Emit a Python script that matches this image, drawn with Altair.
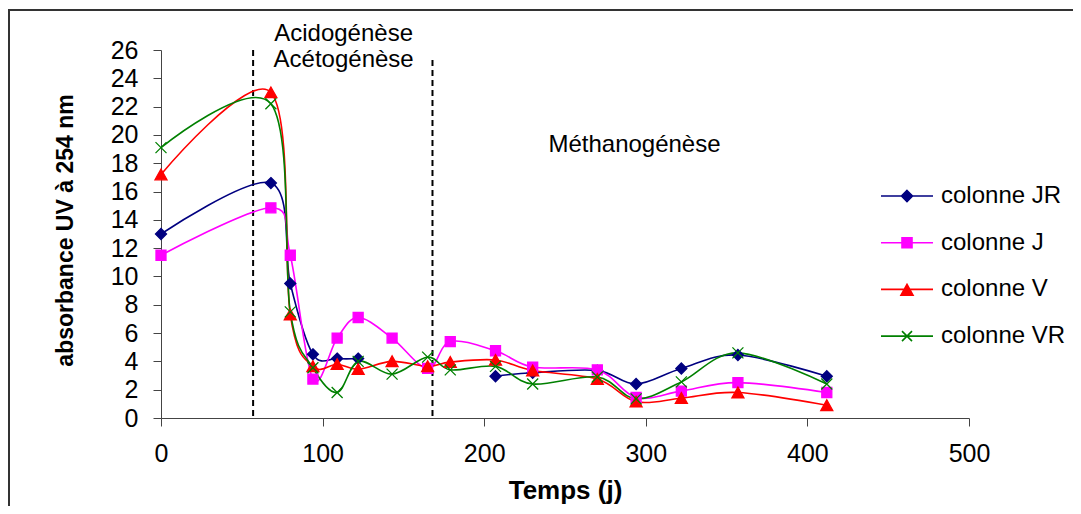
import altair as alt
import pandas as pd

# ---- data ----
times = [0, 68, 80, 94, 109, 122, 143, 165, 179, 207, 230, 270, 294, 322, 357, 412]
jr = [13.0, 16.6, 9.5, 4.5, 4.2, 4.2, None, None, None, 2.95, 3.2, 3.35, 2.4, 3.5, 4.45, 2.95]
j = [11.5, 14.85, 11.5, 2.75, 5.65, 7.1, 5.65, 3.5, 5.4, 4.75, 3.6, 3.4, 1.45, 1.9, 2.5, 1.8]
v = [17.2, 23.0, 7.3, 3.65, 3.8, 3.45, 4.0, 3.65, 3.95, 4.1, 3.35, 2.75, 1.15, 1.4, 1.8, 0.9]
vr = [19.1, 22.2, 7.5, 3.55, 1.8, 4.0, 3.1, 4.3, 3.4, 3.65, 2.4, 2.9, 1.35, 2.55, 4.6, 2.4]

series_names = ["colonne JR", "colonne J", "colonne V", "colonne VR"]
series_values = [jr, j, v, vr]
series_colors = ["#000080", "#FF00FF", "#FF0000", "#008000"]

phase_x = [57, 168]
phase_top = [26, 25.3]
phase_bottom = [0, 0]

note_labels = ["Acidogénèse", "Acétogénèse", "Méthanogénèse"]
note_t = [113, 113, 293]
note_v = [27.1, 25.3, 19.3]

x_ticks = [0, 100, 200, 300, 400, 500]
y_ticks = [0, 2, 4, 6, 8, 10, 12, 14, 16, 18, 20, 22, 24, 26]

# ---- tables ----
rows = []
for name, vals in zip(series_names, series_values):
    for t, val in zip(times, vals):
        rows.append({"t": t, "value": val, "series": name})
df = pd.DataFrame(rows)

phases = pd.DataFrame({"t": phase_x, "top": phase_top, "bottom": phase_bottom})
notes = pd.DataFrame({"t": note_t, "v": note_v, "label": note_labels})

FONT = "Liberation Sans"

marker_paths = [
    "M0,-1.1L1.1,0L0,1.1L-1.1,0Z",
    "M-1,-1L1,-1L1,1L-1,1Z",
    "M0,-1.1L1.2,1.05L-1.2,1.05Z",
    "M-1.1,-1.1L1.1,1.1M1.1,-1.1L-1.1,1.1",
]
legend_paths = [
    "M-5.2,0L5.2,0M0,-1.1L1.1,0L0,1.1L-1.1,0Z",
    "M-5.2,0L5.2,0M-1,-1L1,-1L1,1L-1,1Z",
    "M-5.2,0L5.2,0M0,-1.0L1.2,1.15L-1.2,1.15Z",
    "M-5.2,0L5.2,0M-1,-1L1,1M1,-1L-1,1",
]

x_axis = alt.Axis(
    values=x_ticks, title="Temps (j)", titleFont=FONT, titleFontSize=26,
    titleFontWeight="bold", titleColor="black", titleX=404, titleY=72,
    titleBaseline="middle", labelFont=FONT, labelFontSize=25, labelColor="black",
    labelPadding=15, tickSize=8, tickColor="#444", domainColor="#444",
    grid=False, labelFlush=False,
)
y_axis = alt.Axis(
    values=y_ticks, title="absorbance UV à 254 nm", titleFont=FONT,
    titleFontSize=23, titleFontWeight="bold", titleColor="black",
    titleX=-96, titleY=180, titleAngle=270, titleBaseline="middle",
    titleAlign="center", labelFont=FONT, labelFontSize=25, labelColor="black",
    labelPadding=15, tickSize=8, tickColor="#444", domainColor="#444",
    grid=False, labelFlush=False,
)
x_scale = alt.Scale(domain=[0, 500], nice=False, zero=False)
y_scale = alt.Scale(domain=[0, 26], nice=False, zero=False)


def X(field):
    return alt.X(field, type="quantitative", scale=x_scale, axis=x_axis)


def Y(field):
    return alt.Y(field, type="quantitative", scale=y_scale, axis=y_axis)


color_scale = alt.Scale(domain=series_names, range=series_colors)

border = alt.Chart(pd.DataFrame({"k": [0]})).mark_rect(
    fill="transparent", stroke="#333", strokeWidth=2
).encode(
    x=alt.value(-152), x2=alt.value(929), y=alt.value(-40), y2=alt.value(470)
)

rules = alt.Chart(phases).mark_rule(
    color="black", strokeWidth=2, strokeDash=[6, 4]
).encode(x=X("t"), y=Y("top"), y2="bottom:Q")

lines = alt.Chart(df).mark_line(
    interpolate="cardinal", strokeWidth=1.6, invalid="break-paths-filter-domains"
).encode(
    x=X("t"), y=Y("value"),
    stroke=alt.Stroke("series:N", scale=color_scale, legend=None),
)

points = alt.Chart(df).transform_filter("datum.value != null").mark_point(
    filled=True, size=100, strokeWidth=1.3, opacity=1
).encode(
    x=X("t"), y=Y("value"),
    shape=alt.Shape("series:N", scale=alt.Scale(domain=series_names, range=marker_paths), legend=None),
    fill=alt.Fill("series:N", scale=color_scale, legend=None),
    stroke=alt.Stroke("series:N", scale=color_scale, legend=None),
)

leg = alt.Legend(
    title=None, orient="none", legendX=734, legendY=134, labelFont=FONT,
    labelFontSize=24, labelColor="black", symbolSize=100, symbolStrokeWidth=1.6,
    symbolOpacity=1, labelOffset=22, rowPadding=22.7, padding=0, symbolOffset=0,
)
carrier = alt.Chart(df).transform_filter("datum.value != null").mark_point(
    filled=True, size=100, strokeWidth=1.6, opacity=0
).encode(
    x=X("t"), y=Y("value"),
    shape=alt.Shape("series:N", scale=alt.Scale(domain=series_names, range=legend_paths), legend=leg),
    fill=alt.Fill("series:N", scale=color_scale, legend=leg),
    stroke=alt.Stroke("series:N", scale=color_scale, legend=leg),
)

texts = alt.Chart(notes).mark_text(
    font=FONT, fontSize=24, color="black", align="center", baseline="middle"
).encode(x=X("t"), y=Y("v"), text="label:N")

chart = alt.layer(border, rules, lines, points, carrier, texts).properties(
    width=808, height=368,
    padding={"left": 153, "top": 42, "right": 104, "bottom": 88},
    autosize=alt.AutoSizeParams(type="none"),
    background="white",
).resolve_scale(
    shape="independent", fill="independent", stroke="independent"
).configure_view(stroke=None)

chart.save("out.html", embed_options={"renderer": "svg", "actions": False})
